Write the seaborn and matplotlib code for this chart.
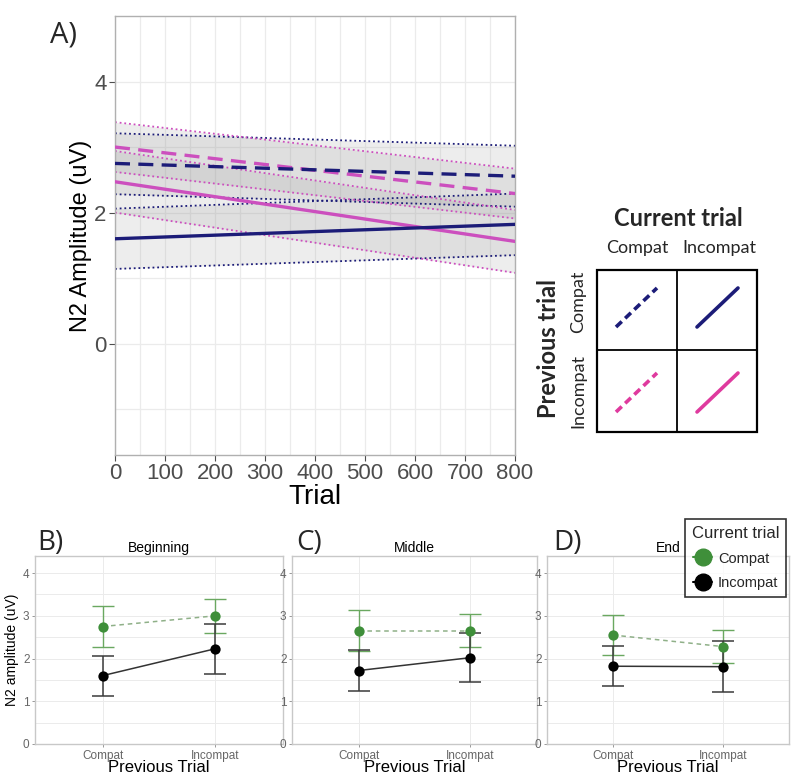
import numpy as np
import pandas as pd
import matplotlib
matplotlib.use("Agg")
import matplotlib.pyplot as plt
from matplotlib.lines import Line2D
from matplotlib.patches import Rectangle
import seaborn as sns

sns.set_theme(style="white")
plt.rcParams['font.family'] = ['Liberation Sans', 'DejaVu Sans']

# ---------------- Panel A data (linear fits over trials) ----------------
trial = [0, 800]
series = ["CC", "CI", "IC", "II"]
prev_trial = ["Compat", "Compat", "Incompat", "Incompat"]
curr_trial = ["Compat", "Incompat", "Compat", "Incompat"]
fit_start = [2.75, 1.60, 3.00, 2.47]
fit_end = [2.555, 1.82, 2.29, 1.56]
lo_start = [2.28, 1.14, 2.62, 2.00]
lo_end = [2.09, 1.35, 1.91, 1.08]
hi_start = [3.21, 2.06, 3.38, 2.94]
hi_end = [3.02, 2.29, 2.67, 2.04]

# ---------------- Panels B-D data ----------------
phases = ["Beginning", "Middle", "End"]
prev_levels = ["Compat", "Incompat"]
beg_compat = [2.75, 3.00]; beg_compat_lo = [2.28, 2.60]; beg_compat_hi = [3.22, 3.40]
beg_incompat = [1.60, 2.23]; beg_incompat_lo = [1.13, 1.64]; beg_incompat_hi = [2.07, 2.82]
mid_compat = [2.65, 2.65]; mid_compat_lo = [2.18, 2.27]; mid_compat_hi = [3.13, 3.04]
mid_incompat = [1.72, 2.02]; mid_incompat_lo = [1.24, 1.45]; mid_incompat_hi = [2.19, 2.60]
end_compat = [2.55, 2.28]; end_compat_lo = [2.08, 1.89]; end_compat_hi = [3.01, 2.67]
end_incompat = [1.82, 1.81]; end_incompat_lo = [1.36, 1.21]; end_incompat_hi = [2.30, 2.41]

NAVY = "#1c1c78"
PINK = "#cc4fbe"
PINK_LEG = "#df3a9e"
GREEN = "#3f8f3a"
GREEN_ERR = "#6aa860"
GRID = "#ebebeb"
BORDER = "#b0b0b0"
TICKC = "#4d4d4d"

rowsA = []
for i, s in enumerate(series):
    rowsA.append(dict(series=s, trial=trial[0], fit=fit_start[i], lo=lo_start[i], hi=hi_start[i]))
    rowsA.append(dict(series=s, trial=trial[1], fit=fit_end[i], lo=lo_end[i], hi=hi_end[i]))
dfA = pd.DataFrame(rowsA)

fig = plt.figure(figsize=(8, 7.8), dpi=100)

# ---------------- Panel A ----------------
axA = fig.add_axes([115/800, 1-455/780, 400/800, (455-16)/780])
axA.set_xlim(0, 800)
axA.set_ylim(-1.7, 5.0)
axA.set_xticks(range(0, 801, 100))
axA.set_xticks(range(50, 800, 100), minor=True)
axA.set_yticks([0, 2, 4])
axA.set_yticks([-1, 1, 3], minor=True)
axA.grid(True, which='both', color=GRID, lw=0.9)
axA.set_axisbelow(True)

colors = {"CC": NAVY, "CI": NAVY, "IC": PINK, "II": PINK}
styles = {"CC": (0, (4.5, 2.5)), "CI": "-", "IC": (0, (4.5, 2.5)), "II": "-"}
for s in series:
    sub = dfA[dfA.series == s]
    axA.fill_between(sub.trial, sub.lo, sub.hi, color="#9a9a9a", alpha=0.17, lw=0, zorder=1)
for s in series:
    sub = dfA[dfA.series == s]
    sns.lineplot(data=sub, x="trial", y="lo", ax=axA, color=colors[s], lw=1.3,
                 linestyle=(0, (1, 1.6)), zorder=2)
    sns.lineplot(data=sub, x="trial", y="hi", ax=axA, color=colors[s], lw=1.3,
                 linestyle=(0, (1, 1.6)), zorder=2)
for s in ["II", "CI", "IC", "CC"]:
    sub = dfA[dfA.series == s]
    sns.lineplot(data=sub, x="trial", y="fit", ax=axA, color=colors[s], lw=2.4,
                 linestyle=styles[s], zorder=3)

axA.set_xlabel("Trial", fontsize=20, color="black", labelpad=0)
axA.set_ylabel("N2 Amplitude (uV)", fontsize=17, color="black", labelpad=2)
axA.tick_params(axis='both', which='major', labelsize=16, labelcolor=TICKC, color=TICKC,
                length=4, width=0.8, pad=2, bottom=True, left=True)
axA.tick_params(which='minor', length=0)
for sp in axA.spines.values():
    sp.set_color(BORDER); sp.set_linewidth(1.0)

# ---------------- Panels B-D ----------------
data_sets = [
    (beg_compat, beg_compat_lo, beg_compat_hi, beg_incompat, beg_incompat_lo, beg_incompat_hi),
    (mid_compat, mid_compat_lo, mid_compat_hi, mid_incompat, mid_incompat_lo, mid_incompat_hi),
    (end_compat, end_compat_lo, end_compat_hi, end_incompat, end_incompat_lo, end_incompat_hi),
]
rows = []
for ph, d in zip(phases, data_sets):
    for j, pl in enumerate(prev_levels):
        rows.append(dict(phase=ph, prev=pl, pos=j, current="Compat", mean=d[0][j], lo=d[1][j], hi=d[2][j]))
        rows.append(dict(phase=ph, prev=pl, pos=j, current="Incompat", mean=d[3][j], lo=d[4][j], hi=d[5][j]))
dfB = pd.DataFrame(rows)

boxes = [(35, 283), (292, 537), (547, 789)]
letters = ["B)", "C)", "D)"]
letter_x = [37, 296, 553]
y_top, y_bot = 556, 744
for k, ph in enumerate(phases):
    x0, x1 = boxes[k]
    ax = fig.add_axes([x0/800, 1-y_bot/780, (x1-x0)/800, (y_bot-y_top)/780])
    ax.set_xlim(-0.6, 1.6)
    ax.set_ylim(0, 4.4)
    ax.set_xticks([0, 1])
    ax.set_xticklabels(prev_levels)
    ax.set_yticks([0, 1, 2, 3, 4])
    ax.set_yticks([0.5, 1.5, 2.5, 3.5], minor=True)
    ax.grid(True, which='both', color=GRID, lw=0.7)
    ax.set_axisbelow(True)
    sub = dfB[dfB.phase == ph]
    sc = sub[sub.current == "Compat"]
    si = sub[sub.current == "Incompat"]
    ax.errorbar(sc.pos, sc["mean"], yerr=[sc["mean"]-sc.lo, sc.hi-sc["mean"]], fmt='none',
                ecolor=GREEN_ERR, elinewidth=1.0, capsize=8, capthick=1.0, zorder=2)
    ax.errorbar(si.pos, si["mean"], yerr=[si["mean"]-si.lo, si.hi-si["mean"]], fmt='none',
                ecolor="#3a3a3a", elinewidth=1.1, capsize=8, capthick=1.1, zorder=2)
    sns.lineplot(data=sc, x="pos", y="mean", ax=ax, color="#8fb088", lw=1.1,
                 linestyle=(0, (3, 2.5)), zorder=3)
    sns.lineplot(data=si, x="pos", y="mean", ax=ax, color="#333333", lw=1.1, zorder=3)
    sns.scatterplot(data=sc, x="pos", y="mean", ax=ax, color=GREEN, s=55, edgecolor=GREEN,
                    linewidth=0, zorder=4)
    sns.scatterplot(data=si, x="pos", y="mean", ax=ax, color="black", s=55, edgecolor="black",
                    linewidth=0, zorder=4)
    ax.set_title(ph, fontsize=10, pad=3, color="black")
    ax.set_xlabel("Previous Trial", fontsize=12, color="black", labelpad=-1)
    if k == 0:
        ax.set_ylabel("N2 amplitude (uV)", fontsize=10, color="black", labelpad=3)
    else:
        ax.set_ylabel("")
    ax.tick_params(axis='both', which='major', labelsize=8.5, labelcolor="#666666", color="#888888",
                   length=2.5, width=0.6, pad=1.5, bottom=True, left=True)
    ax.tick_params(which='minor', length=0)
    for sp in ax.spines.values():
        sp.set_color("#c8c8c8"); sp.set_linewidth(1.0)
    fig.text(letter_x[k]/800, 1-543/780, letters[k], fontsize=20, va='center', ha='left',
             family=['Open Sans', 'DejaVu Sans'])

# legend for B-D
handles = [Line2D([0], [0], color=GREEN, marker='o', markersize=12, lw=1.5, label="Compat"),
           Line2D([0], [0], color="black", marker='o', markersize=12, lw=1.5, label="Incompat")]
leg = fig.legend(handles=handles, title="Current trial", loc="upper right",
                 bbox_to_anchor=(786/800, 1-519/780), fontsize=10.5, title_fontsize=12,
                 frameon=True, fancybox=False, edgecolor="black", handlelength=1.3,
                 handletextpad=0.4, borderpad=0.45, labelspacing=0.75, borderaxespad=0)
leg.get_frame().set_linewidth(1.2)

fig.text(50/800, 1-35/780, "A)", fontsize=21, va='center', ha='left',
         family=['Open Sans', 'DejaVu Sans'])

# ---------------- Schematic key for panel A ----------------
kax = fig.add_axes([0, 0, 1, 1], zorder=5)
kax.set_xlim(0, 800); kax.set_ylim(780, 0); kax.axis('off')
kax.patch.set_alpha(0)
kax.add_patch(Rectangle((597, 270), 160, 162, fill=False, lw=1.6, ec="black"))
kax.plot([677, 677], [270, 432], color="black", lw=1.3)
kax.plot([597, 757], [350, 350], color="black", lw=1.3)
kfont = ['Lato', 'DejaVu Sans']
kax.text(678, 218, "Current trial", fontsize=17, fontweight='bold', ha='center', va='center', family=kfont)
kax.text(637, 248, "Compat", fontsize=13, ha='center', va='center', family=kfont)
kax.text(719, 248, "Incompat", fontsize=13, ha='center', va='center', family=kfont)
kax.text(548, 348, "Previous trial", fontsize=17, fontweight='bold', ha='center', va='center',
         rotation=90, family=kfont)
kax.text(578, 302, "Compat", fontsize=13, ha='center', va='center', rotation=90, family=kfont)
kax.text(578, 391, "Incompat", fontsize=13, ha='center', va='center', rotation=90, family=kfont)
key_colors = [NAVY, NAVY, PINK_LEG, PINK_LEG]
key_styles = [(0, (2.2, 1.3)), "-", (0, (2.2, 1.3)), "-"]
key_x0 = [616, 697, 616, 697]
key_y0 = [327, 327, 412, 412]
for c, ls, xx, yy in zip(key_colors, key_styles, key_x0, key_y0):
    kax.plot([xx, xx+41], [yy, yy-39], color=c, lw=2.6, linestyle=ls, solid_capstyle='round')

fig.savefig("out.png", dpi=100)
